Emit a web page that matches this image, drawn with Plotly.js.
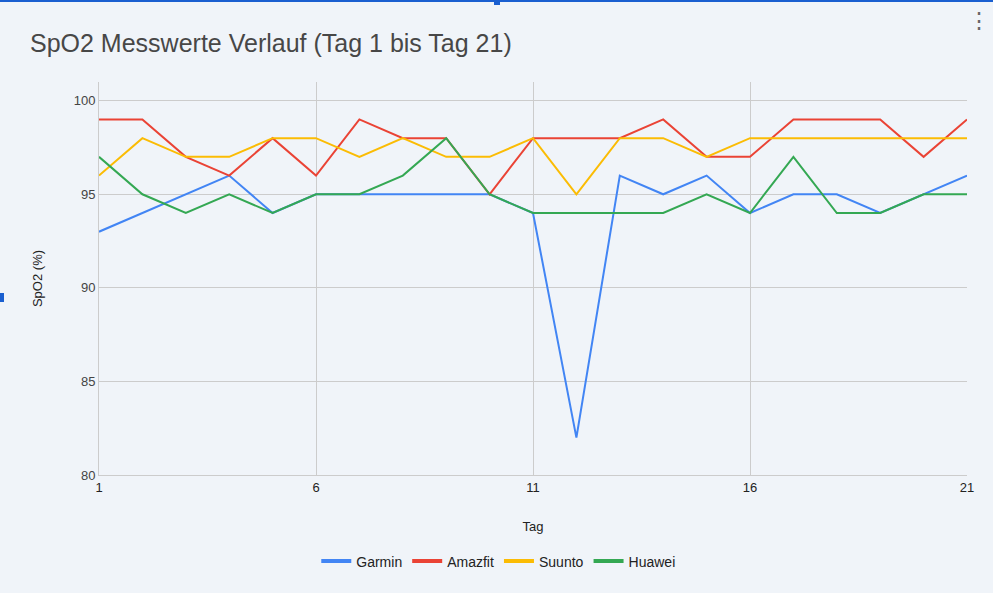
<!DOCTYPE html>
<html>
<head>
<meta charset="utf-8">
<script src="https://cdn.plot.ly/plotly-3.0.1.min.js"></script>
<style>
  html, body { margin: 0; padding: 0; background: #f0f4f9; }
  #chart { width: 993px; height: 593px; }
</style>
</head>
<body>
<div id="chart"></div>
<script>
// Tage 1..21
const days = [1,2,3,4,5,6,7,8,9,10,11,12,13,14,15,16,17,18,19,20,21];

// SpO2 Werte je Gerät
const garmin  = [93,94,95,96,94,95,95,95,95,95,94,82,96,95,96,94,95,95,94,95,96];
const amazfit = [99,99,97,96,98,96,99,98,98,95,98,98,98,99,97,97,99,99,99,97,99];
const suunto  = [96,98,97,97,98,98,97,98,97,97,98,95,98,98,97,98,98,98,98,98,98];
const huawei  = [97,95,94,95,94,95,95,96,98,95,94,94,94,94,95,94,97,94,94,95,95];

const seriesNames = ['Garmin', 'Amazfit', 'Suunto', 'Huawei'];
const seriesData = [garmin, amazfit, suunto, huawei];
const colors = ['#4285f4', '#ea4335', '#fbbc04', '#34a853'];

const xTicks = [1, 6, 11, 16, 21];
const yTicks = [80, 85, 90, 95, 100];

// Linien ohne eigenen Legendeneintrag
const traces = seriesNames.map((name, i) => ({
  x: days,
  y: seriesData[i],
  name: name,
  type: 'scatter',
  mode: 'lines',
  showlegend: false,
  line: { color: colors[i], width: 2 }
}));

// Legende mit dickeren Strichen (wie Google Charts)
seriesNames.forEach((name, i) => {
  traces.push({
    x: [null], y: [null], name: name, type: 'scatter', mode: 'lines',
    line: { color: colors[i], width: 4 }
  });
});

const fontFam = 'Arial, "Liberation Sans", sans-serif';

const layout = {
  width: 993,
  height: 593,
  paper_bgcolor: '#f0f4f9',
  plot_bgcolor: '#f0f4f9',
  margin: { l: 99, r: 26, t: 82, b: 118 },
  font: { family: fontFam, color: '#444444' },
  showlegend: true,
  hovermode: false,
  title: {
    text: 'SpO2 Messwerte Verlauf (Tag 1 bis Tag 21)',
    x: 30 / 993, xanchor: 'left',
    y: 1 - 43 / 593, yanchor: 'middle',
    font: { family: fontFam, size: 25, color: '#474747' }
  },
  xaxis: {
    range: [1, 21],
    tickvals: xTicks,
    ticktext: xTicks.map(String),
    showgrid: true,
    gridcolor: '#cccccc',
    gridwidth: 1,
    zeroline: false,
    showline: true,
    linecolor: '#cccccc',
    ticks: '',
    tickfont: { size: 13, color: '#222222' },
    title: { text: 'Tag', standoff: 28, font: { size: 13, color: '#222222' } }
  },
  yaxis: {
    range: [80, 101],
    tickvals: yTicks,
    ticktext: yTicks.map(String),
    showgrid: true,
    gridcolor: '#cccccc',
    gridwidth: 1,
    zeroline: false,
    showline: true,
    linecolor: '#cccccc',
    ticks: '',
    tickfont: { size: 13, color: '#444444' },
    title: { text: 'SpO2 (%)', standoff: 28, font: { size: 13, color: '#222222' } }
  },
  legend: {
    orientation: 'h',
    x: 0.46, xanchor: 'center',
    y: -0.22, yanchor: 'middle',
    itemwidth: 30,
    font: { family: fontFam, size: 14, color: '#222222' },
    bgcolor: 'rgba(0,0,0,0)'
  },
  annotations: [{
    text: '⋮', xref: 'paper', yref: 'paper',
    x: (979 - 99) / 868, xanchor: 'center',
    y: 1 + (82 - 20) / 393, yanchor: 'middle',
    showarrow: false, font: { size: 22, color: '#666666' }
  }],
  shapes: [
    {
      type: 'line', xref: 'paper', yref: 'paper',
      x0: -99 / 868, x1: 1 + 26 / 868, y0: 1 + 81 / 393, y1: 1 + 81 / 393,
      line: { color: '#1a5fd0', width: 2 }
    },
    {
      type: 'rect', xref: 'paper', yref: 'paper',
      x0: (494 - 99) / 868, x1: (500 - 99) / 868, y0: 1 + 77 / 393, y1: 1 + 82 / 393,
      fillcolor: '#1a5fd0', line: { width: 0 }
    },
    {
      type: 'rect', xref: 'paper', yref: 'paper',
      x0: -99 / 868, x1: -95 / 868, y0: (475 - 302) / 393, y1: (475 - 293) / 393,
      fillcolor: '#1a5fd0', line: { width: 0 }
    }
  ]
};

Plotly.newPlot('chart', traces, layout, { displayModeBar: false, staticPlot: true });
</script>
</body>
</html>
